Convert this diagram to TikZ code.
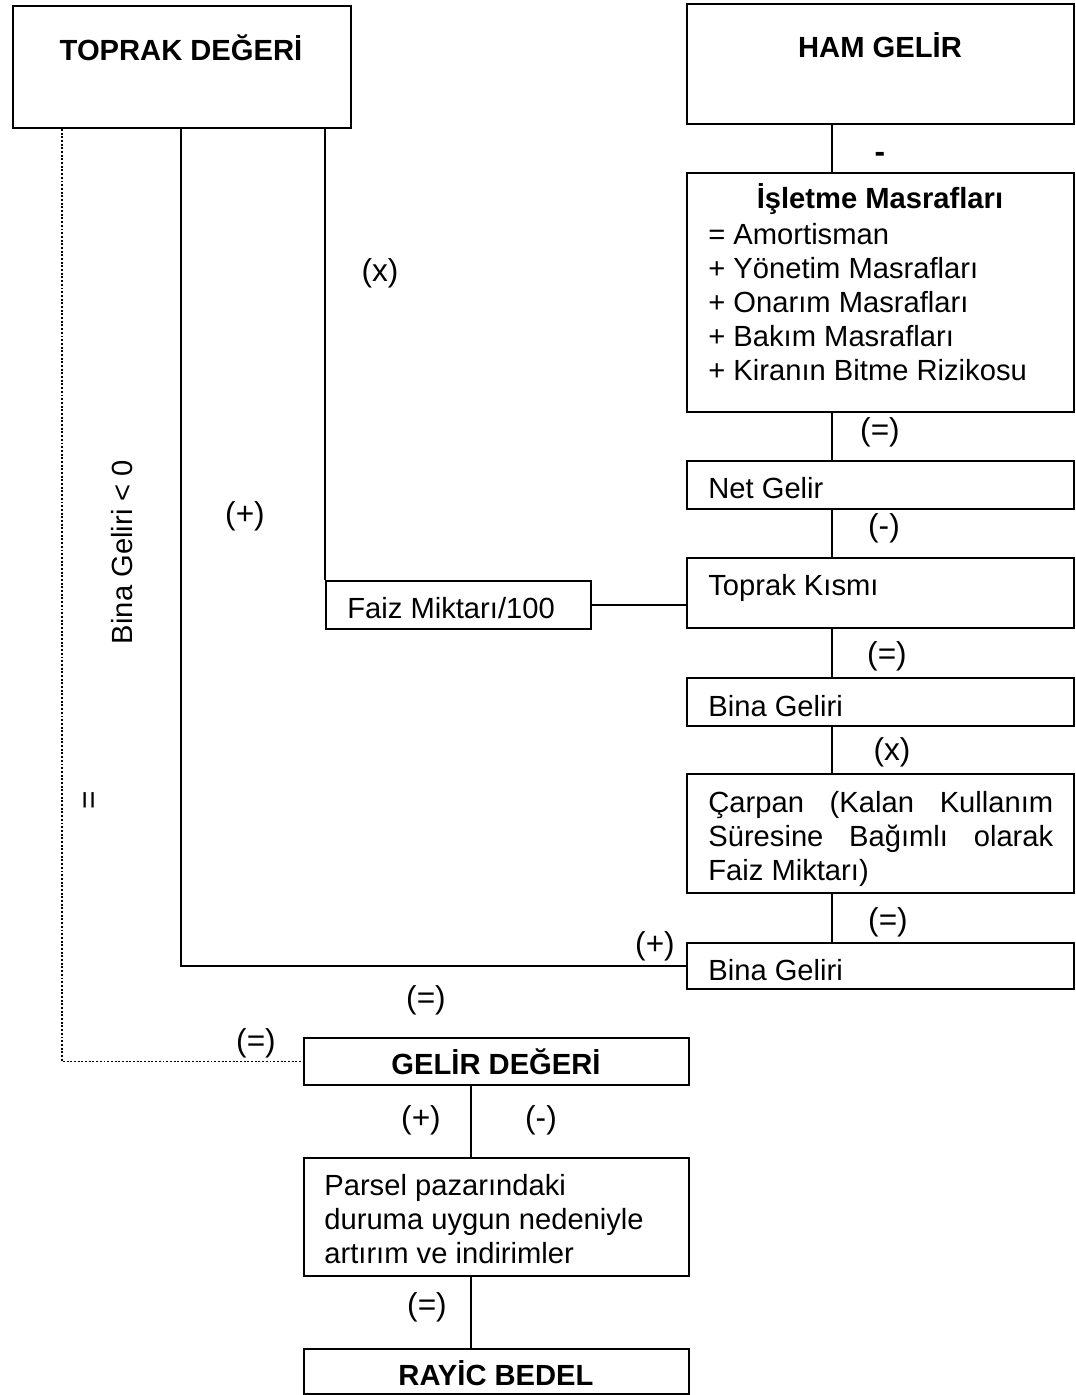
\documentclass[tikz,border=0pt]{standalone}
\usepackage{fontspec}
\setmainfont{Liberation Sans}
\usetikzlibrary{calc, positioning}

\begin{document}
\begin{tikzpicture}[x=0.02cm, y=-0.02cm,
    kutu/.style={draw, line width=1.1pt, anchor=north west, inner sep=0pt},
    yazi/.style={font=\fontsize{16.6}{19.3}\selectfont, inner sep=0pt, align=left},
    baslik/.style={font=\fontsize{16.6}{19.3}\selectfont\bfseries, inner sep=0pt},
    isaret/.style={font=\fontsize{18}{20}\selectfont, inner sep=0pt},
    cizgi/.style={line width=1.1pt}]
    \useasboundingbox (0,0) rectangle (1075,1395);
    % 1. Kutular
    \node[kutu, minimum width=6.76cm, minimum height=2.44cm] (toprak) at (12,5) {};
    \node[kutu, minimum width=7.74cm, minimum height=2.40cm] (ham) at (686,3) {};
    \node[kutu, minimum width=7.74cm, minimum height=4.78cm] (isletme) at (686,172) {};
    \node[kutu, minimum width=7.74cm, minimum height=0.96cm] (net) at (686,460) {};
    \node[kutu, minimum width=7.74cm, minimum height=1.40cm] (tkismi) at (686,557) {};
    \node[kutu, minimum width=7.74cm, minimum height=0.96cm] (bina) at (686,677) {};
    \node[kutu, minimum width=7.74cm, minimum height=2.38cm] (carpan) at (686,773) {};
    \node[kutu, minimum width=7.74cm, minimum height=0.92cm] (binaiki) at (686,942) {};
    \node[kutu, minimum width=5.30cm, minimum height=0.96cm] (faiz) at (325,580) {};
    \node[kutu, minimum width=7.70cm, minimum height=0.94cm] (gelir) at (303,1037) {};
    \node[kutu, minimum width=7.70cm, minimum height=2.36cm] (parsel) at (303,1157) {};
    \node[kutu, minimum width=7.70cm, minimum height=0.90cm] (rayic) at (303,1348) {};

    % 2. Kutu yazilari
    \node[baslik, anchor=base] (toprakY) at (181,61) {TOPRAK DEĞERİ};
    \node[baslik, anchor=base] (hamY) at (880,58) {HAM GELİR};
    \node[baslik, anchor=base] (isletmeY) at (880,209) {İşletme Masrafları};
    \node[yazi, anchor=base west] (isletmeL) at (708,380)
        {= Amortisman\\+ Yönetim Masrafları\\+ Onarım Masrafları\\+ Bakım Masrafları\\+ Kiranın Bitme Rizikosu};
    \node[yazi, anchor=base west] (netY) at (708,498) {Net Gelir};
    \node[yazi, anchor=base west] (tkismiY) at (708,595) {Toprak Kısmı};
    \node[yazi, anchor=base west] (binaY) at (708,716) {Bina Geliri};
    \node[yazi, anchor=base west] (carpanY) at (708,880)
        {\makebox[6.9cm][s]{Çarpan (Kalan Kullanım}\\\makebox[6.9cm][s]{Süresine Bağımlı olarak}\\Faiz Miktarı)};
    \node[yazi, anchor=base west] (binaikiY) at (708,980) {Bina Geliri};
    \node[yazi, anchor=base west] (faizY) at (347,618) {Faiz Miktarı/100};
    \node[baslik, anchor=base] (gelirY) at (496,1074) {GELİR DEĞERİ};
    \node[yazi, anchor=base west] (parselY) at (324,1263)
        {Parsel pazarındaki\\duruma uygun nedeniyle\\artırım ve indirimler};
    \node[baslik, anchor=base] (rayicY) at (496,1385) {RAYİC BEDEL};

    % 3. Baglantilar
    \coordinate (sag) at (832,0);
    \coordinate (orta) at (181,0);
    \coordinate (sol) at (62,0);
    \coordinate (alt) at (471,0);
    \draw[cizgi] (ham.south -| sag) -- (isletme.north -| sag);
    \draw[cizgi] (isletme.south -| sag) -- (net.north -| sag);
    \draw[cizgi] (net.south -| sag) -- (tkismi.north -| sag);
    \draw[cizgi] (tkismi.south -| sag) -- (bina.north -| sag);
    \draw[cizgi] (bina.south -| sag) -- (carpan.north -| sag);
    \draw[cizgi] (carpan.south -| sag) -- (binaiki.north -| sag);
    \draw[cizgi] (toprak.south -| faiz.north west) -- (faiz.north west);
    \draw[cizgi] (faiz.east) -- (faiz.east -| tkismi.west);
    \draw[cizgi] (toprak.south -| orta) |- (binaiki.west);
    \draw[line width=1.1pt, densely dotted] (toprak.south -| sol) |- (gelir.west);
    \draw[cizgi] (gelir.south -| alt) -- (parsel.north -| alt);
    \draw[cizgi] (parsel.south -| alt) -- (rayic.north -| alt);

    % 4. Isaretler
    \node[isaret, font=\fontsize{18}{20}\selectfont\bfseries] (eksi) at (880,157) {-};
    \node[isaret] (esit1) at (880,432) {(=)};
    \node[isaret] (eksi2) at (884,528) {(-)};
    \node[isaret] (esit2) at (887,656) {(=)};
    \node[isaret] (carp1) at (892,752) {(x)};
    \node[isaret] (esit3) at (888,922) {(=)};
    \node[isaret] (carp2) at (380,273) {(x)};
    \node[isaret] (arti1) at (245,516) {(+)};
    \node[isaret] (arti2) at (655,946) {(+)};
    \node[isaret] (esit4) at (426,1000) {(=)};
    \node[isaret] (esit5) at (256,1043) {(=)};
    \node[isaret] (arti3) at (421,1120) {(+)};
    \node[isaret] (eksi3) at (541,1120) {(-)};
    \node[isaret] (esit6) at (427,1307) {(=)};
    \node[yazi, rotate=90] (kosul) at (122,552) {Bina Geliri < 0};
    \node[isaret, rotate=90] (esitdik) at (92,800) {=};
\end{tikzpicture}
\end{document}
